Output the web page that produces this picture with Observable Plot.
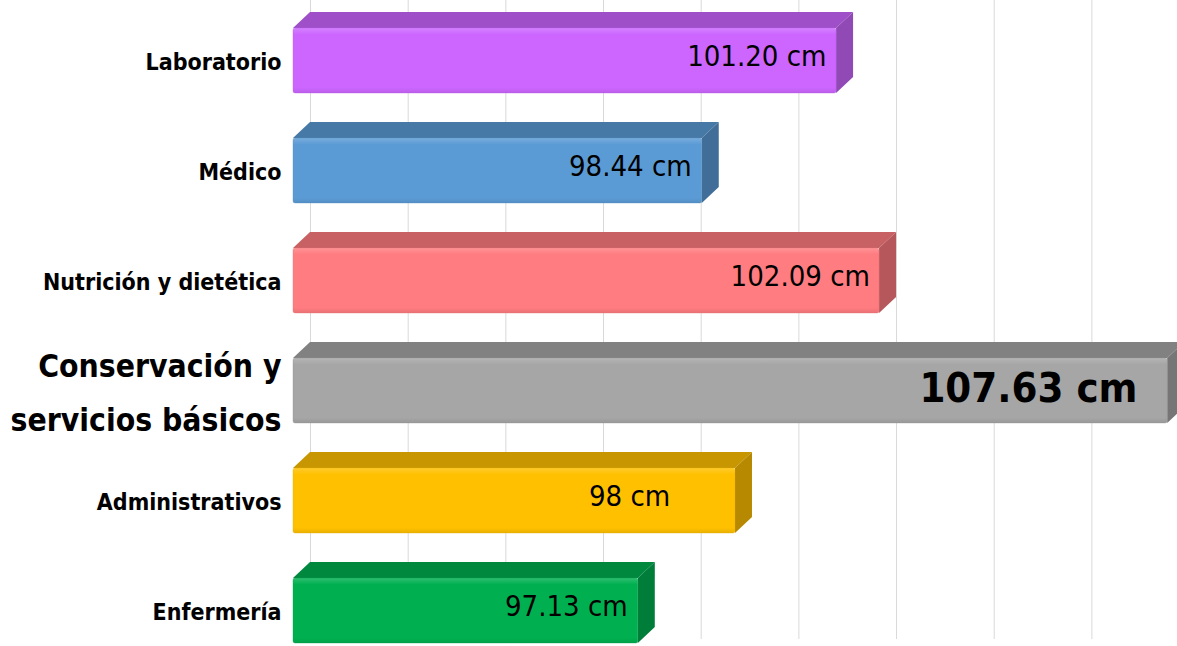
<!DOCTYPE html>
<html><head><meta charset="utf-8">
<script src="https://cdn.jsdelivr.net/npm/d3@7"></script>
<script src="https://cdn.jsdelivr.net/npm/@observablehq/plot@0.6"></script>
<style>
html,body{margin:0;padding:0;background:#fff;overflow:hidden;}
#chart svg{display:block;}
</style></head><body><div id="chart"></div>
<script>
// ---- data ----
const categories = ["Laboratorio", "Médico", "Nutrición y dietética", "Conservación y\nservicios básicos", "Administrativos", "Enfermería"];
const values = [101.20, 98.44, 102.09, 107.63, 98, 97.13];            // values printed on the bars
const barLengths = [101.12, 98.37, 102.0, 107.9, 99.05, 97.06];        // drawn bar lengths
const labels = ["101.20 cm", "98.44 cm", "102.09 cm", "107.63 cm", "98 cm", "97.13 cm"];
const palette = ["#CC66FF", "#5B9BD5", "#FF7C80", "#A6A6A6", "#FFC000", "#00B050"];
const gridTicks = [90, 92, 94, 96, 98, 100, 102, 104, 106];
const baseline = 90;
const highlight = "Conservación y\nservicios básicos";

const data = categories.map((c, i) => ({category: c, value: values[i], length: barLengths[i], label: labels[i], color: palette[i]}));

const FONT = "'DejaVu Sans Condensed', 'DejaVu Sans', sans-serif";
const DX = 17, DY = 16; // 3-D depth offset of the front face

function bars3d(index, scales) {
  const x = scales.x, y = scales.y;
  let bw = typeof y.bandwidth === "function" ? y.bandwidth() : y.bandwidth;
  if (!(bw > 0)) bw = (y(categories[1]) - y(categories[0])) * (1 - 0.41);
  const g = d3.create("svg:g");
  const defs = g.append("defs");
  data.forEach((d, i) => {
    const base = d3.color(d.color);
    const topC = base.darker(0.7).formatHex();
    const sideC = base.darker(0.95).formatHex();
    const light = d3.interpolateRgb(d.color, "#ffffff")(0.18);
    const gid = "grad" + i;
    const grad = defs.append("linearGradient").attr("id", gid).attr("x1", 0).attr("y1", 0).attr("x2", 0).attr("y2", 1);
    grad.append("stop").attr("offset", "0%").attr("stop-color", light);
    grad.append("stop").attr("offset", "10%").attr("stop-color", d.color);
    grad.append("stop").attr("offset", "92%").attr("stop-color", d.color);
    grad.append("stop").attr("offset", "100%").attr("stop-color", base.darker(0.25).formatHex());
    const x0 = x(baseline), xv = x(d.length), yt = y(d.category), yb = yt + bw;
    // top face
    g.append("path")
      .attr("d", `M${x0 - DX},${yt + DY}L${x0},${yt}L${xv},${yt}L${xv - DX},${yt + DY}Z`)
      .attr("fill", topC);
    // side face
    g.append("path")
      .attr("d", `M${xv - DX},${yt + DY}L${xv},${yt}L${xv},${yb}L${xv - DX},${yb + DY}Z`)
      .attr("fill", sideC);
    // front face
    g.append("rect")
      .attr("x", x0 - DX).attr("y", yt + DY)
      .attr("width", xv - x0).attr("height", bw)
      .attr("rx", 2)
      .attr("fill", `url(#${gid})`)
      .attr("stroke", base.darker(0.3).formatHex()).attr("stroke-width", 0.6).attr("stroke-opacity", 0.6);
  });
  return g.node();
}

const chart = Plot.plot({
  width: 1177,
  height: 646,
  marginLeft: 310,
  marginRight: 0,
  marginTop: 0,
  marginBottom: 7,
  style: {fontFamily: FONT, background: "#fff", overflow: "visible"},
  x: {domain: [90, 107.753], axis: null},
  y: {type: "band", domain: categories, paddingInner: 0.41, paddingOuter: 0.1, axis: null},
  marks: [
    Plot.ruleX(gridTicks, {stroke: "#d9d9d9", strokeWidth: 1, y1: null, y2: null}),
    bars3d,
    Plot.axisY({
      tickSize: 0,
      tickPadding: 29,
      dy: 12,
      fontWeight: "bold",
      fontSize: (d) => d === highlight ? 31.6 : 23,
      lineHeight: 1.7,
      fill: "#000"
    }),
    Plot.text(data, {
      filter: (d) => d.category !== highlight,
      x: "value",
      y: "category",
      text: "label",
      textAnchor: "end",
      dx: -31,
      dy: 12,
      fontSize: 29,
      fill: "#000"
    }),
    Plot.text(data, {
      filter: (d) => d.category === highlight,
      x: "value",
      y: "category",
      text: "label",
      textAnchor: "end",
      dx: -34,
      dy: 14,
      fontSize: 41.5,
      fontWeight: "bold",
      fill: "#000"
    })
  ]
});
document.getElementById("chart").append(chart);
</script>
</body></html>
